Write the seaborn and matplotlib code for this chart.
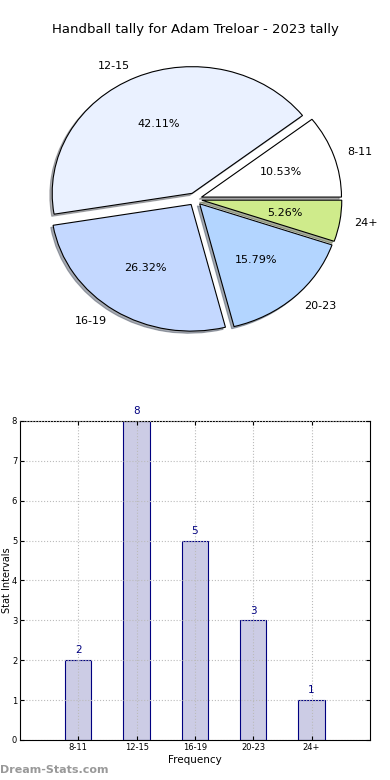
import matplotlib
matplotlib.use("Agg")
import matplotlib.pyplot as plt
import seaborn as sns
import pandas as pd

# dados
categorias = ['8-11', '12-15', '16-19', '20-23', '24+']
contagens = [2, 8, 5, 3, 1]
cores_pizza = ['#ffffff', '#eaf1ff', '#c4d8ff', '#b3d5ff', '#cfeb8b']

sns.set_style("ticks")
plt.rcParams['font.family'] = ['DejaVu Sans']
plt.rcParams['text.color'] = 'black'
plt.rcParams['axes.labelcolor'] = 'black'
plt.rcParams['xtick.color'] = 'black'
plt.rcParams['ytick.color'] = 'black'

fig = plt.figure(figsize=(3.9, 7.8), dpi=100)
fig.text(0.5, 1 - 30 / 780, 'Handball tally for Adam Treloar - 2023 tally',
         ha='center', va='center', fontsize=9.5)

# pizza
ax1 = fig.add_axes([0.0513, 0.5417, 0.897, 0.406])
ax1.pie(contagens, labels=categorias, colors=cores_pizza, autopct='%1.2f%%',
        explode=[0.05] * len(contagens),
        shadow={'ox': -0.012, 'oy': -0.012, 'shade': 0.6}, startangle=0,
        wedgeprops={'edgecolor': 'black', 'linewidth': 0.8},
        textprops={'fontsize': 8})
ax1.set_aspect('auto')
ax1.set_xlim(-1.25, 1.25)
ax1.set_ylim(-1.25, 1.25)

# barras
df = pd.DataFrame({'Faixa': categorias, 'Qtd': contagens})
ax2 = fig.add_axes([0.0513, 0.0513, 0.897, 0.409])
sns.barplot(data=df, x='Faixa', y='Qtd', ax=ax2, width=0.45,
            color=(0, 0, 0.5, 0.2), edgecolor='navy', linewidth=0.8,
            saturation=1)
for i, v in enumerate(contagens):
    ax2.text(i, v + 0.12, str(v), ha='center', va='bottom', color='navy', fontsize=7.5)
ax2.set_xlim(-1, 5)
ax2.set_ylim(0, 8)
ax2.set_yticks(range(0, 9))
ax2.grid(True, color='#bbbbbb', linestyle=':', linewidth=0.8)
ax2.set_axisbelow(False)
ax2.tick_params(direction='in', top=True, right=True, labelsize=6, length=3, pad=2)
ax2.set_xlabel('Frequency', fontsize=7.5, labelpad=2)
ax2.set_ylabel('Stat Intervals', fontsize=7)
ax2.yaxis.set_label_coords(-0.022, 0.5)
for s in ax2.spines.values():
    s.set_linewidth(0.8)
    s.set_color('black')

fig.text(0.0, 1 - 770 / 780, 'Dream-Stats.com', ha='left', va='center',
         fontsize=8, color='#999999', fontweight='bold')

fig.savefig('out.png', dpi=100)
